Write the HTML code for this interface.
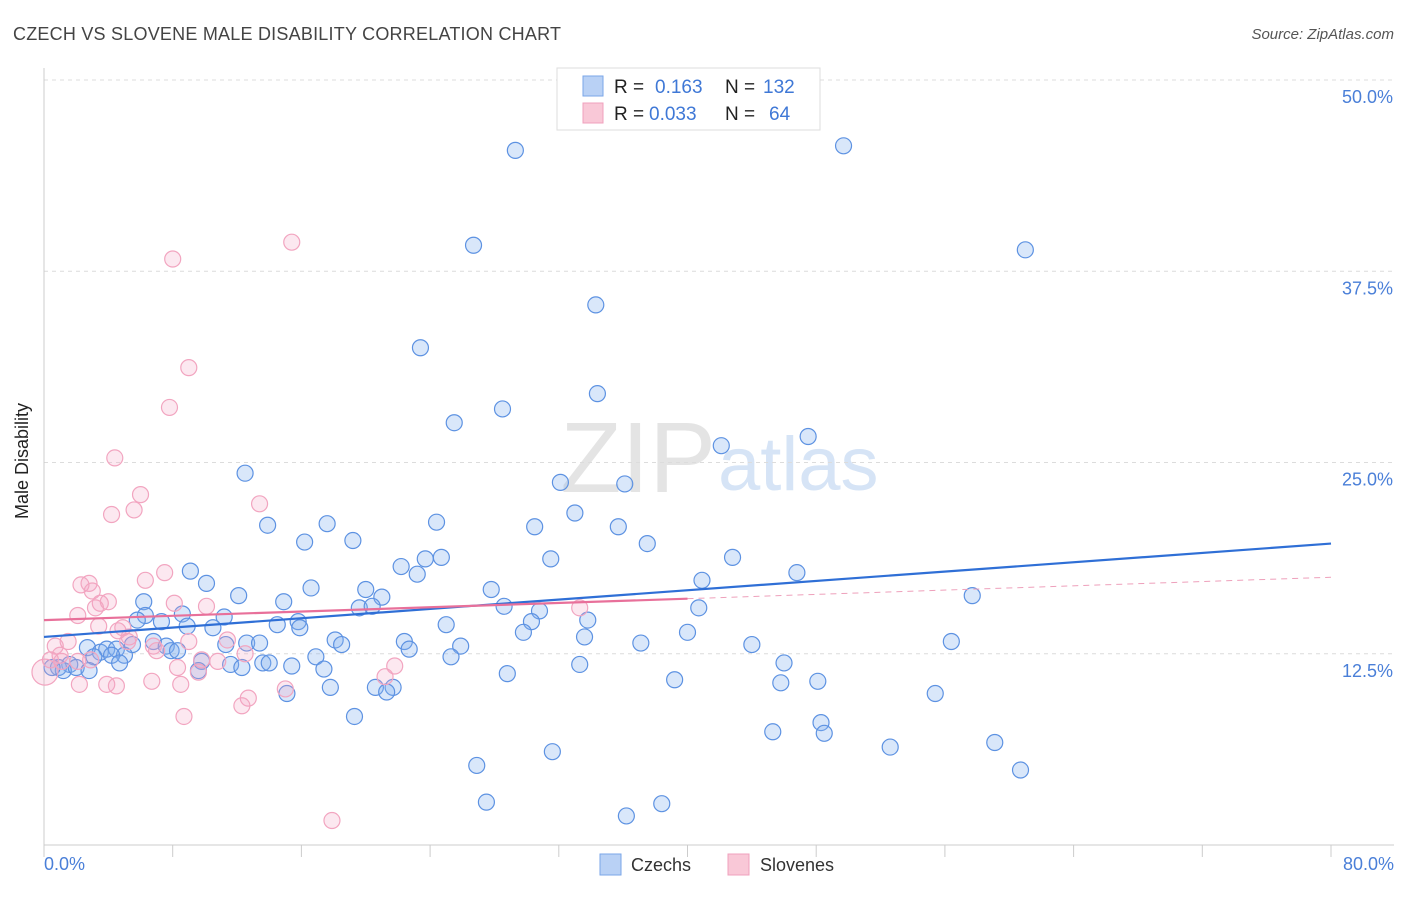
<!DOCTYPE html>
<html><head><meta charset="utf-8"><style>
body{margin:0;background:#fff;font-family:"Liberation Sans",sans-serif;}
svg text{font-family:"Liberation Sans",sans-serif;}
</style></head><body>
<svg width="1406" height="892" id="chart">
<text x="13" y="40" font-size="18" fill="#444" textLength="548">CZECH VS SLOVENE MALE DISABILITY CORRELATION CHART</text>
<text x="1394" y="39" font-size="15" fill="#555" font-style="italic" text-anchor="end">Source: ZipAtlas.com</text>
<text x="716" y="492" font-size="100" fill="#e4e4e4" font-family="Liberation Serif" text-anchor="end">ZIP</text>
<text x="718" y="490" font-size="76" fill="#d6e4f6">atlas</text>
<g id="grid"></g><g id="axes"></g><g id="pts"></g><g id="lines"></g>
<text x="22" y="455" font-size="18" fill="#222" transform="rotate(-90 28 455)" text-anchor="middle">Male Disability</text>
<text x="44" y="870" font-size="18" fill="#4a7fd8">0.0%</text>
<text x="1394" y="870" font-size="18" fill="#4a7fd8" text-anchor="end">80.0%</text>
<g>
<rect x="557" y="68" width="263" height="62" fill="#fff" stroke="#ddd"/>
<rect x="583" y="76" width="20" height="20" fill="#b9d1f5" stroke="#7aa6e8"/>
<rect x="583" y="103" width="20" height="20" fill="#f9c8d7" stroke="#f0a0bc"/>
<text x="614" y="93" font-size="19" fill="#222">R = </text><text x="655" y="93" font-size="19" fill="#3f78d6">0.163</text>
<text x="725" y="93" font-size="19" fill="#222">N = </text><text x="763" y="93" font-size="19" fill="#3f78d6">132</text>
<text x="614" y="120" font-size="19" fill="#222">R = </text><text x="649" y="120" font-size="19" fill="#3f78d6">0.033</text>
<text x="725" y="120" font-size="19" fill="#222">N = </text><text x="769" y="120" font-size="19" fill="#3f78d6">64</text>
</g>
<g>
<rect x="600" y="854" width="21" height="21" fill="#b9d1f5" stroke="#7aa6e8"/>
<text x="631" y="871" font-size="18" fill="#333">Czechs</text>
<rect x="728" y="854" width="21" height="21" fill="#f9c8d7" stroke="#f0a0bc"/>
<text x="760" y="871" font-size="18" fill="#333">Slovenes</text>
</g>
</svg>
<script>
const yTicks=[12.5,25,37.5,50];
const yTickLabels=["12.5%","25.0%","37.5%","50.0%"];
const czechX=[29.3,49.7,26.7,61.0,34.3,23.4,34.4,28.5,25.5,47.5,42.1,12.5,32.1,36.1,33.0,13.9,17.6,24.4,30.5,35.7,16.2,19.2,37.5,24.7,23.7,31.5,42.8,22.2,23.2,46.8,9.1,10.1,16.6,27.8,40.9,20.0,12.1,21.0,57.7,6.2,14.9,19.6,20.4,28.6,30.8,40.7,8.6,6.3,7.3,11.2,5.8,15.8,8.9,10.5,14.5,15.9,25.0,30.3,33.8,29.8,40.0,33.6,6.8,7.6,18.1,18.5,22.4,25.9,37.1,44.0,56.4,5.5,12.6,13.4,11.3,7.9,8.3,2.7,3.5,3.9,4.5,5.0,4.2,3.1,4.7,22.7,16.9,25.3,9.8,11.6,12.3,13.6,14.0,15.4,17.4,33.3,46.0,1.6,0.9,1.2,2.0,0.5,2.8,9.6,28.8,39.2,48.1,45.8,17.8,20.6,21.7,21.3,15.1,55.4,19.3,48.3,45.3,48.5,59.1,52.6,31.6,26.9,60.7,27.5,38.4,36.2];
const czechY=[45.4,45.7,39.2,38.9,35.3,32.5,29.5,28.5,27.6,26.7,26.1,24.3,23.7,23.6,21.7,20.9,21.0,21.1,20.8,20.8,19.8,19.9,19.7,18.8,18.7,18.7,18.8,18.2,17.7,17.8,17.9,17.1,16.8,16.7,17.3,16.7,16.3,16.2,16.3,15.9,15.9,15.5,15.6,15.6,15.3,15.5,15.1,15.0,14.6,14.9,14.7,14.6,14.3,14.2,14.4,14.2,14.4,14.6,14.7,13.9,13.9,13.6,13.3,13.0,13.4,13.1,13.3,13.0,13.2,13.1,13.3,13.1,13.2,13.2,13.1,12.7,12.7,12.9,12.6,12.8,12.8,12.4,12.4,12.3,11.9,12.8,12.3,12.3,12.0,11.8,11.6,11.9,11.9,11.7,11.5,11.8,11.9,11.8,11.6,11.4,11.6,11.6,11.4,11.4,11.2,10.8,10.7,10.6,10.3,10.3,10.3,10.0,9.9,9.9,8.4,8.0,7.4,7.3,6.7,6.4,6.1,5.2,4.9,2.8,2.7,1.9];
const sloveneX=[15.4,8.0,9.0,7.8,4.4,6.0,13.4,5.6,4.2,7.5,6.3,2.3,2.8,3.0,3.5,4.0,3.2,2.1,10.1,8.1,33.3,4.9,3.4,4.6,1.5,0.7,5.3,6.8,7.0,9.0,11.4,12.5,5.2,1.0,1.1,2.1,2.9,9.8,10.8,8.3,9.6,0.06,0.4,21.8,21.2,3.9,2.2,4.5,6.7,8.5,15.0,12.7,12.3,8.7,17.9];
const sloveneY=[39.4,38.3,31.2,28.6,25.3,22.9,22.3,21.9,21.6,17.8,17.3,17.0,17.1,16.6,15.8,15.9,15.5,15.0,15.6,15.8,15.5,14.2,14.3,14.0,13.3,13.0,13.6,13.0,12.7,13.3,13.4,12.5,13.3,12.4,12.0,12.0,12.1,12.1,12.0,11.6,11.3,11.3,12.1,11.7,11.0,10.5,10.5,10.4,10.7,10.5,10.2,9.6,9.1,8.4,1.6];
const czechTrend=[13.6,19.7];
const sloveneTrend=[14.7,16.1,17.5];
const NS="http://www.w3.org/2000/svg";
const X0=44,X1=1331,Y0=845,Y50=80;
const sx=v=>X0+(X1-X0)*v/80;
const sy=v=>Y0-(Y0-Y50)*v/50;
function mk(t,a,p){const e=document.createElementNS(NS,t);for(const k in a)e.setAttribute(k,a[k]);p.appendChild(e);return e;}
const grid=document.getElementById('grid'),axes=document.getElementById('axes');
yTicks.forEach((t,i)=>{
 const l=mk('line',{x1:X0,x2:1394,y1:sy(t),y2:sy(t),stroke:'#dcdcdc','stroke-dasharray':'4,4'},grid);
 
 
 const tx=mk('text',{x:1393,y:sy(t)+23,'font-size':18,fill:'#4a7fd8','text-anchor':'end'},axes);
 tx.textContent=yTickLabels[i];
 
 
});
mk('line',{x1:X0,x2:X0,y1:68,y2:Y0,stroke:'#ccc'},axes);
mk('line',{x1:X0,x2:1394,y1:Y0,y2:Y0,stroke:'#ccc'},axes);
for(let i=0;i<=10;i++){const t=mk('line',{x1:sx(i*8),x2:sx(i*8),y1:Y0,y2:Y0+12,stroke:'#ccc'},axes);
 
 }
const pts=document.getElementById('pts');
czechX.forEach((x,i)=>{const c=mk('circle',{cx:sx(x),cy:sy(czechY[i]),r:8,fill:'rgba(130,175,240,0.3)',stroke:'#5d92e2','stroke-width':1.2},pts);
 
 });
sloveneX.forEach((x,i)=>{const c=mk('circle',{cx:sx(x),cy:sy(sloveneY[i]),r:i==41?13:8,fill:'rgba(245,165,195,0.25)',stroke:'#f2a5c0','stroke-width':1.2},pts);
 
 });
const ln=document.getElementById('lines');
const b=mk('line',{x1:sx(0),y1:sy(czechTrend[0]),x2:sx(80),y2:sy(czechTrend[1]),stroke:'#2f6fd6','stroke-width':2.2},ln);


const p=mk('line',{x1:sx(0),y1:sy(sloveneTrend[0]),x2:sx(40),y2:sy(sloveneTrend[1]),stroke:'#e8709a','stroke-width':2.2},ln);


const pd=mk('line',{x1:sx(40),y1:sy(sloveneTrend[1]),x2:sx(80),y2:sy(sloveneTrend[2]),stroke:'#eea0bb','stroke-width':1,'stroke-dasharray':'6,5'},ln);


</script>
</body></html>
